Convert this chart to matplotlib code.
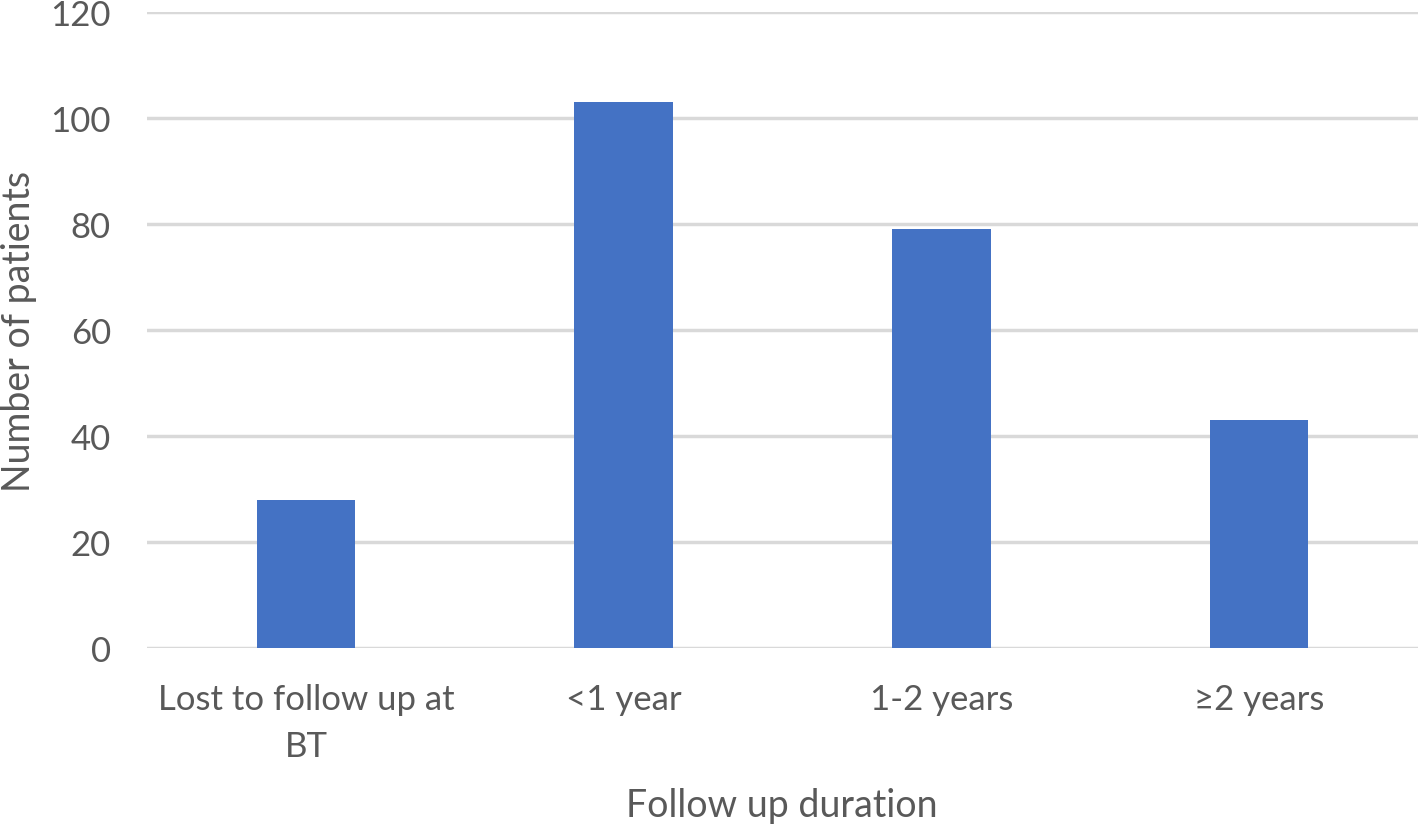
import numpy as np
import matplotlib.pyplot as plt

plt.rcParams['font.family'] = ['Lato', 'DejaVu Sans']

# Data
categories = ["Lost to follow up at\nBT", "<1 year", "1-2 years", "\u22652 years"]
patients = [28, 103, 79, 43]
y_ticks = [0, 20, 40, 60, 80, 100, 120]

text_color = "#595959"
bar_color = "#4472C4"
grid_color = "#D9D9D9"

fig = plt.figure(figsize=(14.18, 8.28), dpi=100)
ax = fig.add_axes([0.1037, 0.2162, 0.8963, 0.7681])

x = np.arange(len(categories))
ax.bar(x, patients, width=0.31, color=bar_color, zorder=3)

ax.set_xlim(-0.5, len(categories) - 0.5)
ax.set_ylim(0, 120)
ax.set_yticks(y_ticks)
ax.set_xticks(x)
ax.set_xticklabels(categories, fontsize=25, color=text_color, linespacing=1.6)
ax.tick_params(axis='y', labelsize=25, labelcolor=text_color, length=0, pad=26)
ax.tick_params(axis='x', length=0, pad=25)

ax.grid(axis='y', color=grid_color, linewidth=2.5, zorder=0)
for side in ["top", "right", "left", "bottom"]:
    ax.spines[side].set_visible(False)

# x label sits at a fixed spot below the wrapped tick label
fig.text(0.5515, 0.027, "Follow up duration", fontsize=27, color=text_color,
         ha='center', va='center')
ax.set_ylabel("Number of patients", fontsize=27, color=text_color, labelpad=10)

fig.savefig("out.png", dpi=100)
